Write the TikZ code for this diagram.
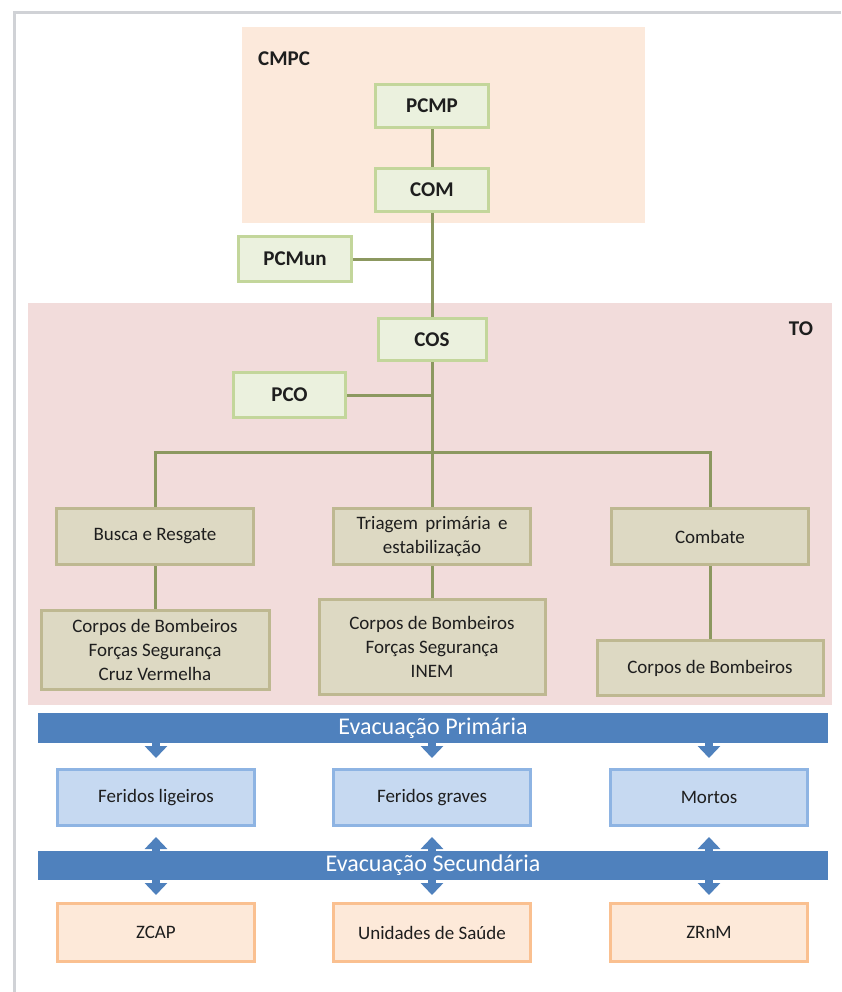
\documentclass[tikz,border=0pt]{standalone}
\usepackage{fontspec}
\setmainfont{Carlito}
\usetikzlibrary{arrows.meta}

\definecolor{cmpcfill}{RGB}{252,233,219}
\definecolor{tofill}{RGB}{242,220,219}
\definecolor{gfill}{RGB}{235,241,222}
\definecolor{gline}{RGB}{195,214,155}
\definecolor{tfill}{RGB}{221,217,195}
\definecolor{tline}{RGB}{190,184,145}
\definecolor{bfill}{RGB}{198,217,241}
\definecolor{bline}{RGB}{142,180,227}
\definecolor{ofill}{RGB}{253,233,217}
\definecolor{oline}{RGB}{250,192,144}
\definecolor{bandcol}{RGB}{79,129,189}
\definecolor{conncol}{RGB}{140,152,96}
\definecolor{txtcol}{RGB}{30,30,30}
\definecolor{framecol}{RGB}{208,210,214}

\tikzset{
  box/.style={rectangle, line width=3pt, inner sep=2pt, align=center, text=txtcol},
  gbox/.style={box, fill=gfill, draw=gline, font=\fontsize{21}{25}\selectfont\bfseries,
               minimum width=113, minimum height=43},
  tbox/.style={box, fill=tfill, draw=tline, font=\fontsize{19}{24}\selectfont,
               minimum width=197},
  bbox/.style={box, fill=bfill, draw=bline, font=\fontsize{19}{23}\selectfont,
               minimum width=197, minimum height=56},
  obox/.style={box, fill=ofill, draw=oline, font=\fontsize{19}{23}\selectfont,
               minimum width=197, minimum height=58},
  bandbox/.style={rectangle, fill=bandcol, text=white, inner sep=0pt,
               font=\fontsize{24}{28}\selectfont, minimum width=790},
  region/.style={font=\fontsize{21}{25}\selectfont\bfseries, text=txtcol, inner sep=0pt},
  conn/.style={draw=conncol, line width=3pt},
  evarr/.style={draw=bandcol, line width=8pt, -{Triangle[width=22pt,length=12pt]}},
}

\begin{document}
\begin{tikzpicture}[x=1pt,y=-1pt]
  \useasboundingbox (0,0) rectangle (841,992);
  \fill[white] (0,0) rectangle (841,992);

  % page frame
  \draw[framecol, line width=3pt] (14,992) -- (14,13) -- (841,13);

  % background regions
  \fill[cmpcfill] (242,27) rectangle (645,223);
  \fill[tofill] (28,303) rectangle (832,705);
  \node[region, anchor=west] (cmpc) at (258,59) {CMPC};
  \node[region] (to) at (801,329) {TO};

  % command chain
  \node[gbox] (pcmp) at (432,106) {PCMP};
  \node[gbox] (com) at (432,190) {COM};
  \node[gbox, minimum height=45] (pcmun) at (295,259) {PCMun};
  \node[gbox, minimum width=108, minimum height=42] (cos) at (432,339.5) {COS};
  \node[gbox, minimum width=112, minimum height=45] (pco) at (289.5,395) {PCO};

  % operational branches
  \node[tbox, minimum height=56] (busca) at (155,536.5) {Busca e Resgate};
  \node[tbox, minimum height=56] (triagem) at (432,536.5)
       {Triagem\hspace{3pt} primária\hspace{3pt} e\\estabilização};
  \node[tbox, minimum height=56] (combate) at (710,536.5) {Combate};

  \node[tbox, minimum width=228, minimum height=79] (ag1) at (155,650)
       {Corpos de Bombeiros\\Forças Segurança\\Cruz Vermelha};
  \node[tbox, minimum width=226, minimum height=95] (ag2) at (432,647)
       {Corpos de Bombeiros\\Forças Segurança\\INEM};
  \node[tbox, minimum width=226, minimum height=55] (ag3) at (710,668)
       {Corpos de Bombeiros};

  % connectors
  \coordinate (bus) at (432,452);
  \draw[conn] (pcmp) -- (com);
  \draw[conn] (com) -- (cos);
  \draw[conn] (pcmun.east) -- (pcmun.east -| com.south);
  \draw[conn] (pco.east) -- (pco.east -| cos.south);
  \draw[conn] (cos.south) -- (bus);
  \draw[conn] (busca.north) |- (bus) -| (combate.north);
  \draw[conn] (bus) -- (triagem.north);
  \draw[conn] (busca) -- (ag1);
  \draw[conn] (triagem) -- (ag2);
  \draw[conn] (combate) -- (ag3);

  % evacuation
  \node[bandbox, minimum height=30] (ep) at (433,728) {Evacuação Primária};
  \node[bandbox, minimum height=29] (es) at (433,865.5) {Evacuação Secundária};

  \node[bbox] (fl) at (156,797.5) {Feridos ligeiros};
  \node[bbox] (fg) at (432,797.5) {Feridos graves};
  \node[bbox] (mo) at (709,797.5) {Mortos};

  \node[obox] (zcap) at (156,932.5) {ZCAP};
  \node[obox] (us) at (432,932.5) {Unidades de Saúde};
  \node[obox] (zrnm) at (709,932.5) {ZRnM};

  \foreach \b in {fl,fg,mo}{
    \draw[evarr] (ep.south -| \b.north) -- ([yshift=10pt]\b.north);
    \draw[evarr] (es.north -| \b.south) -- ([yshift=-10pt]\b.south);
  }
  \foreach \b in {zcap,us,zrnm}{
    \draw[evarr] (es.south -| \b.north) -- ([yshift=7pt]\b.north);
  }
\end{tikzpicture}
\end{document}
